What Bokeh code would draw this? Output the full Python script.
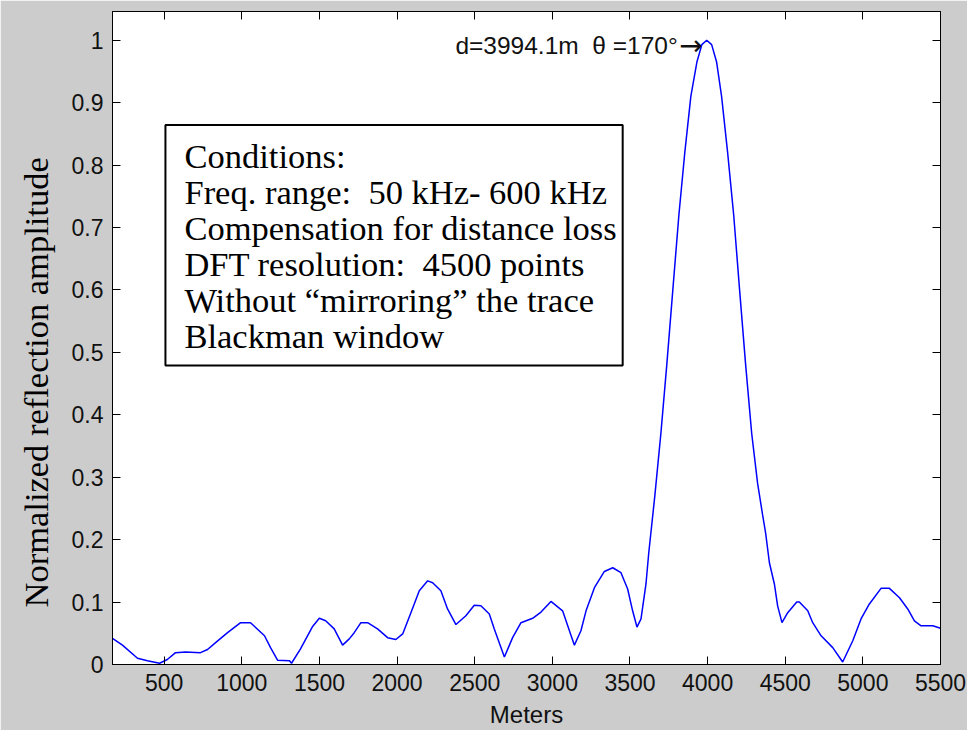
from bokeh.plotting import figure
from bokeh.models import Range1d, FixedTicker, LinearAxis, Label, BoxAnnotation, Title
from bokeh.embed import file_html
from bokeh.resources import INLINE

# ---- data ----
meters = [167, 231, 328, 392, 470, 520, 573, 637, 734, 779, 831, 908, 992, 1056,
          1146, 1185, 1230, 1307, 1320, 1378, 1456, 1499, 1540, 1595, 1649, 1692,
          1724, 1767, 1810, 1874, 1939, 1992, 2036, 2089, 2143, 2197, 2229, 2282,
          2325, 2379, 2443, 2497, 2540, 2594, 2626, 2691, 2744, 2798, 2873, 2927,
          2991, 3066, 3099, 3142, 3184, 3217, 3271, 3335, 3389, 3442, 3485, 3517,
          3545, 3571, 3603, 3621, 3660, 3699, 3737, 3776, 3815, 3853, 3892, 3931,
          3963, 3994.1, 4026, 4058, 4090, 4129, 4168, 4206, 4245, 4284, 4322, 4354,
          4374, 4398, 4430, 4451, 4479, 4516, 4574, 4591, 4645, 4677, 4731, 4806,
          4870, 4935, 4988, 5042, 5117, 5171, 5236, 5289, 5332, 5375, 5450, 5500]
amplitude = [0.042, 0.031, 0.010, 0.006, 0.002, 0.008, 0.019, 0.020, 0.019, 0.024,
             0.035, 0.051, 0.067, 0.067, 0.046, 0.027, 0.007, 0.006, 0.002, 0.025,
             0.061, 0.074, 0.070, 0.057, 0.031, 0.041, 0.051, 0.067, 0.067, 0.057,
             0.043, 0.040, 0.049, 0.083, 0.118, 0.134, 0.131, 0.118, 0.089, 0.064,
             0.078, 0.095, 0.094, 0.081, 0.057, 0.012, 0.043, 0.067, 0.074, 0.084,
             0.101, 0.086, 0.062, 0.031, 0.054, 0.086, 0.123, 0.149, 0.155, 0.147,
             0.121, 0.086, 0.060, 0.073, 0.129, 0.179, 0.27, 0.37, 0.48, 0.60,
             0.72, 0.82, 0.91, 0.965, 0.993, 1.0, 0.993, 0.965, 0.91, 0.82,
             0.72, 0.60, 0.48, 0.37, 0.29, 0.24, 0.21, 0.163, 0.129, 0.094,
             0.067, 0.083, 0.100, 0.100, 0.086, 0.067, 0.046, 0.027, 0.004, 0.038,
             0.073, 0.097, 0.122, 0.122, 0.107, 0.089, 0.070, 0.062, 0.062, 0.058]

x_ticks = [500, 1000, 1500, 2000, 2500, 3000, 3500, 4000, 4500, 5000, 5500]
y_ticks = [0, 0.1, 0.2, 0.3, 0.4, 0.5, 0.6, 0.7, 0.8, 0.9, 1]
y_tick_labels = ["0", "0.1", "0.2", "0.3", "0.4", "0.5", "0.6", "0.7", "0.8", "0.9", "1"]

x_label = "Meters"
y_label = "Normalized reflection amplitude"
peak_text = "d=3994.1m \u00a0\u03b8 =170\u00b0"
arrow_text = "\u2192"
box_lines = ["Conditions:",
             "Freq. range:\u00a0 50 kHz- 600 kHz",
             "Compensation for distance loss",
             "DFT resolution:\u00a0 4500 points",
             "Without \u201cmirroring\u201d the trace",
             "Blackman window"]

TICK_FONT = "Liberation Sans"
SERIF = "Liberation Serif"
GRAY = "#cccccc"

X0, X1 = 167, 5500
Y0, Y1 = 0, 1.046
FRAME_W, FRAME_H = 828, 653

p = figure(width=967, height=730, output_backend="svg", toolbar_location=None,
           x_range=Range1d(X0, X1), y_range=Range1d(Y0, Y1),
           min_border_left=112, min_border_right=27, min_border_top=11,
           min_border_bottom=66, background_fill_color="white",
           border_fill_color=GRAY, outline_line_color="black", outline_line_width=1)
p.grid.visible = False

def style_axis(ax, ticks, show_labels):
    ax.ticker = FixedTicker(ticks=ticks)
    ax.major_tick_in = 8
    ax.major_tick_out = 0
    ax.minor_tick_line_color = None
    ax.axis_line_color = "black"
    ax.major_tick_line_color = "black"
    ax.major_label_text_font = TICK_FONT
    ax.major_label_text_color = "#111111"
    if show_labels:
        ax.major_label_text_font_size = "23px"
        ax.major_label_standoff = 9
    else:
        ax.major_label_text_font_size = "0px"
        ax.major_label_standoff = 0

style_axis(p.xaxis[0], x_ticks, True)
style_axis(p.yaxis[0], y_ticks, True)
p.yaxis[0].major_label_overrides = {t: s for t, s in zip(y_ticks, y_tick_labels)}

p.xaxis[0].axis_label = x_label
p.xaxis[0].axis_label_text_font = TICK_FONT
p.xaxis[0].axis_label_text_font_size = "24px"
p.xaxis[0].axis_label_text_font_style = "normal"
p.xaxis[0].axis_label_text_color = "#111111"
p.xaxis[0].axis_label_standoff = 7

top_axis = LinearAxis()
style_axis(top_axis, x_ticks, False)
p.add_layout(top_axis, "above")
right_axis = LinearAxis()
style_axis(right_axis, y_ticks, False)
p.add_layout(right_axis, "right")

# y axis title, starting a little above the frame bottom as in the reference
p.add_layout(Title(text=y_label, align="left", offset=57, standoff=27,
                   text_font=SERIF, text_font_size="34.5px",
                   text_font_style="normal", text_color="black"), "left")

p.line(meters, amplitude, line_color="#0000ff", line_width=1.5)

# data units per screen pixel
ux = (X1 - X0) / FRAME_W
uy = (Y1 - Y0) / FRAME_H

# peak annotation
imax = amplitude.index(max(amplitude))
py = amplitude[imax] - 5 * uy
p.add_layout(Label(x=meters[imax], y=py, x_offset=-4, text=arrow_text,
                   text_align="right", text_baseline="middle",
                   text_font="DejaVu Sans", text_font_size="28px", text_color="#111111"))
p.add_layout(Label(x=meters[imax], y=py, x_offset=-29, text=peak_text,
                   text_align="right", text_baseline="middle",
                   text_font=TICK_FONT, text_font_size="24.5px", text_color="#111111"))

# conditions box
p.add_layout(BoxAnnotation(left=508, right=3453, top=0.864, bottom=0.479,
                           fill_color="white", fill_alpha=1.0,
                           line_color="black", line_width=2, line_alpha=1.0))
line_y0 = 0.814
line_step = 0.0577
for i, t in enumerate(box_lines):
    p.add_layout(Label(x=508 + 19 * ux, y=line_y0 - i * line_step, text=t,
                       text_align="left", text_baseline="middle",
                       text_font=SERIF, text_font_size="34.5px", text_color="black"))

open("out.html", "w").write(file_html(p, INLINE))
